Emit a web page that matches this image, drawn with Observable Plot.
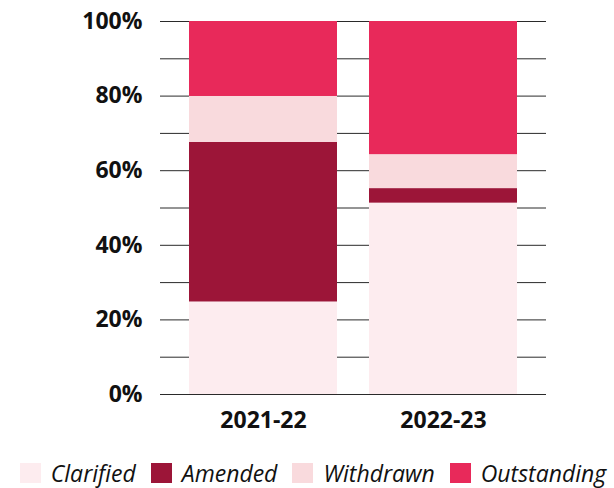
<!DOCTYPE html>
<html>
<head>
<meta charset="utf-8">
<script src="https://cdn.jsdelivr.net/npm/d3@7"></script>
<script src="https://cdn.jsdelivr.net/npm/@observablehq/plot@0.6"></script>
<style>
  body { margin: 0; background: #fff; font-family: "Open Sans", sans-serif; }
  #chart { width: 614px; position: relative; height: 488px; }
  .legend { position: absolute; left: 6px; width: 614px; top: 463px; height: 20px; display: flex; justify-content: center; align-items: center; font-style: italic; font-size: 23px; color: #111; }
  .legend .item { display: flex; align-items: center; margin: 0 7.5px; height: 20px; }
  .legend .sw { width: 21px; height: 20px; margin-right: 10px; flex: none; }
  .legend .tx { line-height: 20px; }
</style>
</head>
<body>
<div id="chart"></div>
<script>
const years = ["2021-22", "2022-23"];
const categories = ["Clarified", "Amended", "Withdrawn", "Outstanding"];
const colors = ["#fdecef", "#9c1538", "#f9dadd", "#e8295a"];
const clarified = [24.8, 51.3];
const amended = [42.8, 3.9];
const withdrawn = [12.3, 9.1];
const outstanding = [20.1, 35.7];
const yTicks = [0, 20, 40, 60, 80, 100];
const gridValues = [0, 10, 20, 30, 40, 50, 60, 70, 80, 90, 100];

const series = [clarified, amended, withdrawn, outstanding];
const data = [];
categories.forEach((c, i) => years.forEach((y, j) => data.push({year: y, category: c, value: series[i][j]})));

const chart = Plot.plot({
  width: 614,
  height: 440,
  marginLeft: 160,
  marginRight: 68,
  marginTop: 21,
  marginBottom: 46,
  style: {fontFamily: "Open Sans, sans-serif", fontSize: "23px", fontWeight: "bold", color: "#111"},
  x: {domain: years, paddingInner: 0.18, paddingOuter: 0.157, label: null},
  y: {domain: [0, 100], label: null},
  color: {domain: categories, range: colors},
  marks: [
    Plot.ruleY(gridValues, {stroke: "#2a2a2a", strokeWidth: 1}),
    Plot.barY(data, {x: "year", y: "value", fill: "category", order: categories}),
    Plot.axisY({ticks: yTicks, tickSize: 0, tickPadding: 18, tickFormat: d => d + "%", label: null, fontSize: 23, fontWeight: "bold"}),
    Plot.axisX({tickSize: 0, tickPadding: 17, label: null, fontSize: 23, fontWeight: "bold"})
  ]
});
document.getElementById("chart").appendChild(chart);

const legend = document.createElement("div");
legend.className = "legend";
categories.forEach((c, i) => {
  const item = document.createElement("div");
  item.className = "item";
  const sw = document.createElement("span");
  sw.className = "sw";
  sw.style.background = colors[i];
  const t = document.createElement("span");
  t.className = "tx";
  t.textContent = c;
  item.appendChild(sw);
  item.appendChild(t);
  legend.appendChild(item);
});
document.getElementById("chart").appendChild(legend);
</script>
</body>
</html>
